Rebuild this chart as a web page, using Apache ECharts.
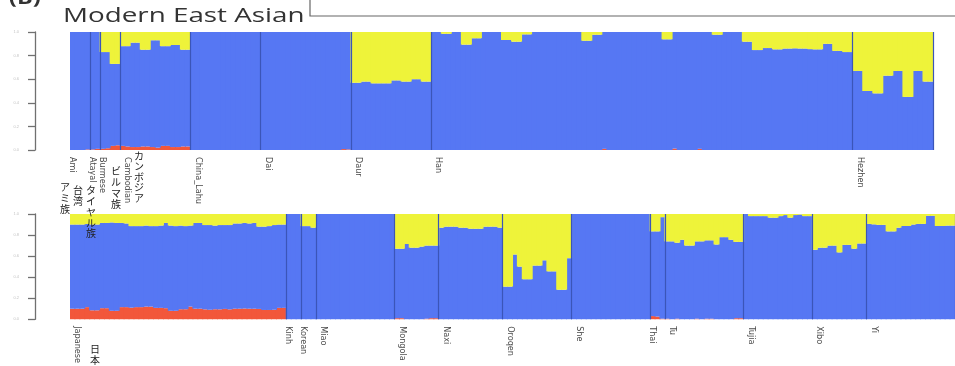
<!DOCTYPE html>
<html>
<head>
<meta charset="utf-8">
<script src="https://cdn.jsdelivr.net/npm/echarts@6/dist/echarts.min.js"></script>
<style>
  html, body { margin: 0; padding: 0; background: #fff; }
  #chart { width: 955px; height: 366px; }
</style>
</head>
<body>
<div id="chart"></div>
<script>
// populations and ancestry proportions (yellow = top component, red = bottom component, blue = rest)
const topNames = ['Ami', 'Atayal', 'Burmese', 'Cambodian', 'China_Lahu', 'Dai', 'Daur', 'Han', 'Hezhen'];
const topYellow = [
  [0, 0, 0, 0],
  [0, 0],
  [0.17, 0.17, 0.27, 0.27],
  [0.12, 0.12, 0.09, 0.09, 0.15, 0.15, 0.07, 0.07, 0.12, 0.12, 0.11, 0.11, 0.15, 0.15],
  [0, 0, 0, 0, 0, 0, 0, 0, 0, 0, 0, 0, 0, 0],
  [0, 0, 0, 0, 0, 0, 0, 0, 0, 0, 0, 0, 0, 0, 0, 0, 0, 0],
  [0.43, 0.43, 0.42, 0.42, 0.435, 0.435, 0.435, 0.435, 0.41, 0.41, 0.42, 0.42, 0.40, 0.40, 0.42, 0.42],
  [0, 0, 0.015, 0.015, 0, 0, 0.107, 0.107, 0.053, 0.053,
   0, 0, 0, 0, 0.068, 0.068, 0.082, 0.082, 0.02, 0.02,
   0, 0, 0, 0, 0, 0, 0, 0, 0, 0,
   0.074, 0.074, 0.023, 0.023, 0, 0, 0, 0, 0, 0,
   0, 0, 0, 0, 0, 0, 0.062, 0.062, 0, 0,
   0, 0, 0, 0, 0, 0, 0.023, 0.023, 0, 0,
   0, 0, 0.082, 0.082, 0.153, 0.153, 0.136, 0.136, 0.147, 0.147,
   0.14, 0.14, 0.138, 0.14, 0.14, 0.145, 0.147, 0.147, 0.1, 0.1,
   0.16, 0.16, 0.17, 0.17],
  [0.33, 0.33, 0.5, 0.5, 0.52, 0.52, 0.37, 0.37, 0.33, 0.33, 0.55, 0.55, 0.33, 0.33, 0.42, 0.42]
];
const topRed = [
  [0, 0, 0, 0.005],
  [0.005, 0.01],
  [0.01, 0.015, 0.035, 0.04],
  [0.035, 0.03, 0.025, 0.025, 0.03, 0.03, 0.025, 0.02, 0.035, 0.035, 0.025, 0.025, 0.03, 0.03],
  [0, 0, 0, 0, 0, 0, 0, 0, 0, 0, 0, 0, 0, 0],
  [0, 0, 0, 0, 0, 0, 0, 0, 0, 0, 0, 0, 0, 0, 0, 0, 0.008, 0.005],
  [0, 0, 0, 0, 0, 0, 0, 0, 0, 0, 0, 0, 0, 0, 0, 0],
  [0, 0, 0, 0, 0, 0, 0, 0, 0, 0,
   0, 0, 0, 0, 0, 0, 0, 0, 0, 0,
   0, 0, 0, 0, 0, 0, 0, 0, 0, 0,
   0, 0, 0, 0, 0.01, 0, 0, 0, 0, 0,
   0, 0, 0, 0, 0, 0, 0, 0, 0.012, 0,
   0, 0, 0, 0.01, 0, 0, 0, 0, 0, 0,
   0, 0, 0, 0, 0, 0, 0, 0, 0, 0,
   0, 0, 0, 0, 0, 0, 0, 0, 0, 0,
   0, 0, 0, 0],
  [0, 0, 0, 0, 0, 0, 0, 0, 0, 0, 0, 0, 0, 0, 0, 0]
];

const botNames = ['Japanese', 'Kinh', 'Korean', 'Miao', 'Mongola', 'Naxi', 'Oroqen', 'She', 'Thai', 'Tu', 'Tujia', 'Xibo', 'Yi'];
const botYellow = [
  [0.1, 0.1, 0.1, 0.095, 0.1, 0.1, 0.085, 0.085, 0.08, 0.085, 0.085, 0.09,
   0.115, 0.115, 0.115, 0.11, 0.115, 0.115, 0.11, 0.085, 0.11, 0.115, 0.11, 0.115, 0.11,
   0.085, 0.085, 0.105, 0.105, 0.11, 0.105, 0.105, 0.105, 0.09, 0.09, 0.085, 0.09, 0.085,
   0.12, 0.12, 0.115, 0.105, 0.1, 0.1],
  [0, 0, 0],
  [0.115, 0.115, 0.13],
  [0, 0, 0, 0, 0, 0, 0, 0, 0, 0, 0, 0, 0, 0, 0, 0],
  [0.33, 0.33, 0.285, 0.32, 0.32, 0.31, 0.30, 0.30, 0.30],
  [0.13, 0.12, 0.12, 0.12, 0.13, 0.13, 0.14, 0.14, 0.14, 0.12, 0.12, 0.12, 0.13],
  [0.69, 0.69, 0.385, 0.5, 0.62, 0.62, 0.49, 0.49, 0.44, 0.545, 0.545, 0.72, 0.72, 0.42],
  [0, 0, 0, 0, 0, 0, 0, 0, 0, 0, 0, 0, 0, 0, 0, 0],
  [0.165, 0.165, 0.03],
  [0.26, 0.26, 0.273, 0.245, 0.3, 0.3, 0.26, 0.26, 0.25, 0.25, 0.29, 0.22, 0.22, 0.245, 0.265, 0.265],
  [0, 0.02, 0.02, 0.02, 0.02, 0.035, 0.035, 0.02, 0.01, 0.035, 0.01, 0.005, 0.02, 0.02],
  [0.34, 0.32, 0.32, 0.30, 0.30, 0.365, 0.293, 0.293, 0.33, 0.28, 0.28],
  [0.094, 0.098, 0.103, 0.103, 0.165, 0.165, 0.13, 0.114, 0.114, 0.1, 0.094, 0.094, 0.017, 0.017, 0.114, 0.114, 0.11, 0.11]
];
const botRed = [
  [0.1, 0.1, 0.1, 0.115, 0.085, 0.085, 0.105, 0.105, 0.08, 0.08,
   0.115, 0.115, 0.11, 0.115, 0.115, 0.12, 0.12, 0.108, 0.108, 0.105,
   0.08, 0.08, 0.095, 0.095, 0.12, 0.1, 0.1, 0.094, 0.09, 0.095,
   0.094, 0.098, 0.094, 0.1, 0.1, 0.102, 0.1, 0.1, 0.098, 0.088,
   0.088, 0.09, 0.108, 0.108],
  [0, 0, 0],
  [0, 0, 0],
  [0, 0, 0, 0, 0, 0, 0, 0, 0, 0, 0, 0, 0, 0, 0, 0],
  [0.01, 0.01, 0, 0, 0, 0, 0.005, 0.01, 0.01],
  [0, 0, 0, 0, 0, 0, 0, 0, 0, 0, 0, 0, 0],
  [0, 0, 0, 0, 0, 0, 0, 0, 0, 0, 0, 0, 0, 0],
  [0, 0, 0, 0, 0, 0, 0, 0, 0, 0, 0, 0, 0, 0, 0, 0],
  [0.03, 0.025, 0.005],
  [0.005, 0, 0.005, 0, 0, 0, 0.005, 0, 0.005, 0.005, 0, 0, 0, 0, 0.01, 0.01],
  [0, 0, 0, 0, 0, 0, 0, 0, 0, 0, 0, 0, 0, 0],
  [0, 0, 0, 0, 0, 0, 0, 0, 0, 0, 0],
  [0, 0, 0, 0, 0, 0, 0, 0, 0, 0, 0, 0, 0, 0, 0, 0, 0, 0]
];

// Japanese annotations written vertically
const topJaLabels = ['アミ族', '台湾', 'タイヤル族', 'ビルマ族', 'カンボジア'];
const botJaLabels = ['日本'];

const BLUE = '#5677f3';
const YELLOW = '#eef33a';
const RED = '#f2573b';
const SEP = '#3b55b8';
const narrow = "'Liberation Sans Narrow', 'DejaVu Sans Condensed', 'Roboto Condensed', sans-serif";
const jaFont = "'Noto Sans CJK JP', sans-serif";

function buildPanel(names, yellow, red) {
  const cats = [], y = [], r = [], b = [];
  const starts = new Set(), labels = new Set();
  names.forEach((n, p) => {
    if (cats.length > 0) starts.add(cats.length);
    labels.add(cats.length + (yellow[p].length > 4 ? 1 : 0));
    yellow[p].forEach((v, k) => {
      cats.push(n + '#' + k);
      y.push(v);
      r.push(red[p][k]);
      b.push(+(1 - v - red[p][k]).toFixed(4));
    });
  });
  return { cats, y, r, b, starts, labels };
}

const topPanel = buildPanel(topNames, topYellow, topRed);
const botPanel = buildPanel(botNames, botYellow, botRed);

function xAxisFor(panel, gridIndex) {
  return {
    type: 'category',
    gridIndex: gridIndex,
    data: panel.cats,
    boundaryGap: true,
    z: 4,
    axisLine: { show: false },
    axisTick: { show: false },
    splitLine: {
      show: true,
      interval: (i) => panel.starts.has(i),
      lineStyle: { color: SEP, width: 1.2 }
    },
    axisLabel: {
      interval: (i) => panel.labels.has(i),
      formatter: (v) => v.split('#')[0],
      rotate: -90,
      margin: 7,
      fontSize: 9,
      fontFamily: narrow,
      color: '#4a4a4a'
    }
  };
}

function yAxisFor(gridIndex) {
  return {
    type: 'value',
    gridIndex: gridIndex,
    min: 0,
    max: 1,
    interval: 0.2,
    offset: 35,
    axisLine: { show: true, lineStyle: { color: '#707070', width: 1.3 } },
    axisTick: { show: true, length: 7, lineStyle: { color: '#707070', width: 1.3 } },
    splitLine: { show: false },
    axisLabel: {
      fontSize: 4,
      color: '#c4c4c4',
      margin: 16,
      formatter: (v) => v.toFixed(1)
    }
  };
}

// bars slightly wider than the band so neighbours overlap and no seams show
function barSeries(panel, idx) {
  const common = {
    type: 'bar',
    xAxisIndex: idx,
    yAxisIndex: idx,
    stack: 'q' + idx,
    barWidth: 6,
    barGap: '-100%',
    silent: true
  };
  return [
    { ...common, name: 'red', data: panel.r, itemStyle: { color: RED } },
    { ...common, name: 'blue', data: panel.b, itemStyle: { color: BLUE } },
    { ...common, name: 'yellow', data: panel.y, itemStyle: { color: YELLOW } }
  ];
}

function vertical(s) { return s.split('').join('\n'); }

const jaStyle = { font: '10px ' + jaFont, fill: '#222', textAlign: 'center', lineHeight: 11 };

const chart = echarts.init(document.getElementById('chart'));
chart.setOption({
  animation: false,
  grid: [
    { left: 70, top: 32, width: 863, height: 118 },
    { left: 70, top: 214, width: 900, height: 117 }
  ],
  xAxis: [xAxisFor(topPanel, 0), xAxisFor(botPanel, 1)],
  yAxis: [yAxisFor(0), yAxisFor(1)],
  series: [...barSeries(topPanel, 0), ...barSeries(botPanel, 1)],
  graphic: [
    { type: 'text', x: 63, y: 16.5, scaleX: 1.39, z: 100,
      style: { text: 'Modern East Asian', font: '500 20px "Open Sans", sans-serif', fill: '#333', verticalAlign: 'middle' } },
    { type: 'text', x: 9, y: -1, scaleX: 1.3, z: 100,
      style: { text: '(B)', font: 'bold 18px "Open Sans", sans-serif', fill: '#333', verticalAlign: 'middle' } },
    { type: 'rect', z: 100, shape: { x: 310, y: -10, width: 700, height: 26 },
      style: { fill: 'none', stroke: '#666', lineWidth: 1.2 } },
    { type: 'text', z: 100, x: 65, y: 182, style: { ...jaStyle, text: vertical(topJaLabels[0]) } },
    { type: 'text', z: 100, x: 78, y: 185, style: { ...jaStyle, text: vertical(topJaLabels[1]) } },
    { type: 'text', z: 100, x: 91, y: 185, style: { ...jaStyle, text: vertical(topJaLabels[2]), lineHeight: 10.8 } },
    { type: 'text', z: 100, x: 116, y: 166, style: { ...jaStyle, text: vertical(topJaLabels[3]) } },
    { type: 'text', z: 100, x: 139, y: 151, style: { ...jaStyle, text: vertical(topJaLabels[4]), lineHeight: 10.4 } },
    { type: 'text', z: 100, x: 95, y: 344, style: { ...jaStyle, text: vertical(botJaLabels[0]) } }
  ]
});
</script>
</body>
</html>
